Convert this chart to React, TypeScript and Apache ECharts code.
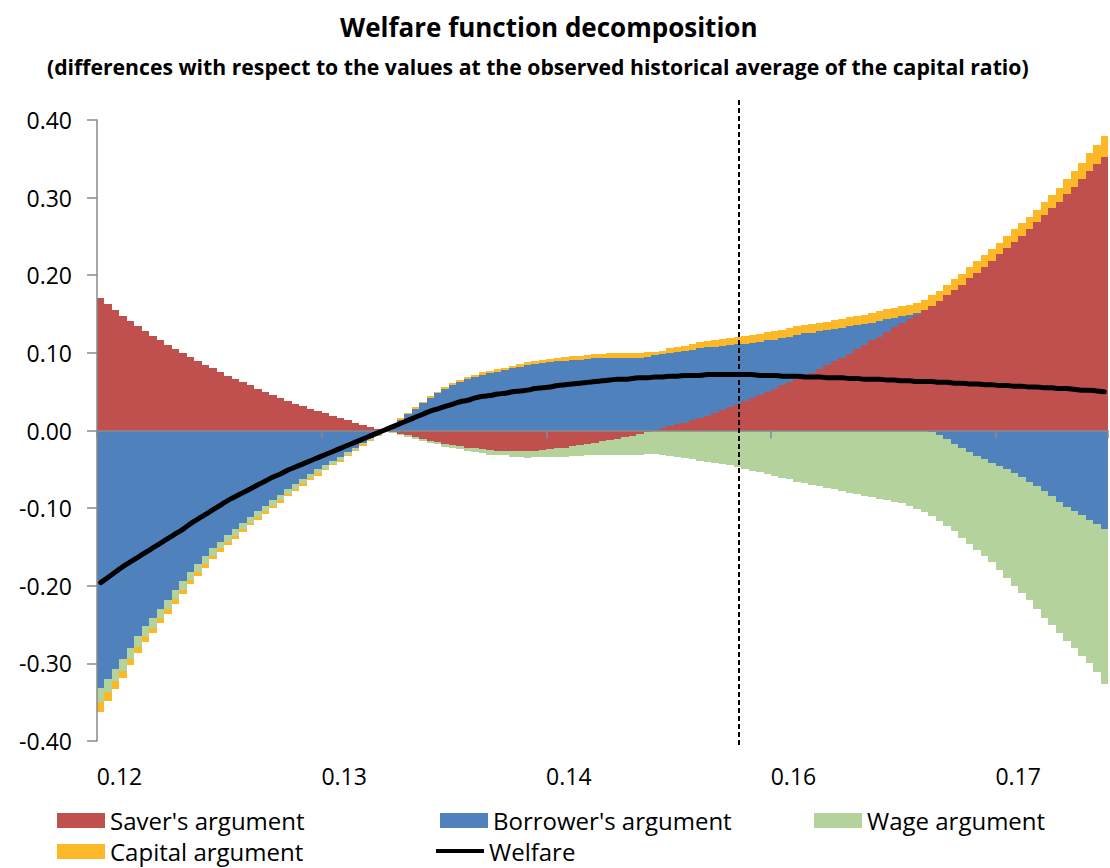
import React, { useEffect, useRef } from "react";
import * as echarts from "echarts";

// Capital-ratio grid of the chart (one bar per grid point)
const CATEGORY_START = 0.119;
const CATEGORY_STEP = 0.0004;

const saver = [
  0.171, 0.163, 0.155, 0.148, 0.141, 0.134, 0.128, 0.122, 0.116, 0.110,
  0.105, 0.100, 0.095, 0.090, 0.085, 0.080, 0.075, 0.070, 0.066, 0.062,
  0.058, 0.054, 0.050, 0.046, 0.042, 0.038, 0.034, 0.031, 0.028, 0.025,
  0.022, 0.019, 0.016, 0.013, 0.010, 0.007, 0.005, 0.002, 0.000, -0.002,
  -0.004, -0.006, -0.009, -0.011, -0.013, -0.015, -0.017, -0.019, -0.020, -0.022,
  -0.023, -0.024, -0.025, -0.026, -0.026, -0.027, -0.027, -0.027, -0.026, -0.025,
  -0.024, -0.023, -0.022, -0.020, -0.019, -0.017, -0.016, -0.014, -0.012, -0.011,
  -0.009, -0.007, -0.005, -0.002, 0.001, 0.003, 0.006, 0.008, 0.010, 0.013,
  0.016, 0.019, 0.022, 0.026, 0.030, 0.034, 0.038, 0.042, 0.046, 0.050,
  0.054, 0.058, 0.062, 0.066, 0.070, 0.074, 0.079, 0.084, 0.089, 0.094,
  0.099, 0.105, 0.110, 0.116, 0.121, 0.127, 0.133, 0.138, 0.144, 0.149,
  0.155, 0.161, 0.167, 0.174, 0.181, 0.188, 0.196, 0.203, 0.211, 0.219,
  0.227, 0.235, 0.243, 0.251, 0.259, 0.268, 0.277, 0.286, 0.295, 0.305,
  0.314, 0.324, 0.334, 0.343, 0.352,
];

const borrower = [
  -0.332, -0.320, -0.307, -0.295, -0.280, -0.265, -0.252, -0.241, -0.230, -0.218,
  -0.206, -0.194, -0.182, -0.172, -0.162, -0.152, -0.143, -0.135, -0.127, -0.119,
  -0.111, -0.104, -0.097, -0.090, -0.083, -0.076, -0.069, -0.062, -0.056, -0.050,
  -0.044, -0.039, -0.034, -0.028, -0.022, -0.016, -0.010, -0.005, 0.000, 0.006,
  0.014, 0.021, 0.028, 0.035, 0.042, 0.048, 0.053, 0.058, 0.062, 0.066,
  0.069, 0.072, 0.074, 0.076, 0.078, 0.080, 0.082, 0.084, 0.086, 0.087,
  0.088, 0.089, 0.090, 0.091, 0.091, 0.092, 0.093, 0.093, 0.094, 0.094,
  0.094, 0.094, 0.094, 0.095, 0.096, 0.095, 0.094, 0.093, 0.092, 0.091,
  0.090, 0.088, 0.086, 0.083, 0.080, 0.077, 0.074, 0.071, 0.068, 0.066,
  0.063, 0.061, 0.059, 0.057, 0.055, 0.052, 0.049, 0.045, 0.042, 0.038,
  0.035, 0.031, 0.027, 0.023, 0.020, 0.016, 0.012, 0.009, 0.005, 0.002,
  0.000, -0.002, -0.006, -0.011, -0.017, -0.023, -0.028, -0.033, -0.037, -0.042,
  -0.046, -0.050, -0.055, -0.060, -0.066, -0.072, -0.078, -0.085, -0.092, -0.098,
  -0.104, -0.109, -0.115, -0.120, -0.127,
];

const wage = [
  -0.018, -0.017, -0.016, -0.015, -0.014, -0.014, -0.013, -0.013, -0.012, -0.012,
  -0.011, -0.011, -0.011, -0.010, -0.010, -0.010, -0.009, -0.009, -0.009, -0.008,
  -0.008, -0.008, -0.007, -0.007, -0.007, -0.006, -0.006, -0.006, -0.005, -0.005,
  -0.005, -0.004, -0.004, -0.003, -0.003, -0.002, -0.002, -0.001, -0.001, -0.001,
  -0.002, -0.002, -0.002, -0.003, -0.003, -0.003, -0.004, -0.004, -0.004, -0.005,
  -0.005, -0.005, -0.006, -0.006, -0.006, -0.007, -0.007, -0.008, -0.008, -0.009,
  -0.010, -0.011, -0.012, -0.013, -0.014, -0.015, -0.016, -0.017, -0.019, -0.020,
  -0.022, -0.024, -0.026, -0.028, -0.030, -0.031, -0.033, -0.034, -0.035, -0.037,
  -0.039, -0.040, -0.042, -0.043, -0.045, -0.047, -0.049, -0.052, -0.054, -0.056,
  -0.058, -0.061, -0.063, -0.066, -0.068, -0.070, -0.072, -0.074, -0.076, -0.078,
  -0.080, -0.082, -0.084, -0.086, -0.088, -0.090, -0.092, -0.094, -0.097, -0.101,
  -0.105, -0.108, -0.110, -0.112, -0.113, -0.115, -0.118, -0.121, -0.125, -0.128,
  -0.134, -0.140, -0.145, -0.149, -0.153, -0.158, -0.163, -0.166, -0.169, -0.173,
  -0.176, -0.181, -0.185, -0.191, -0.200,
];

const capital = [
  -0.012, -0.011, -0.010, -0.009, -0.008, -0.008, -0.007, -0.007, -0.006, -0.006,
  -0.006, -0.005, -0.005, -0.005, -0.005, -0.004, -0.004, -0.004, -0.004, -0.004,
  -0.003, -0.003, -0.003, -0.003, -0.003, -0.003, -0.003, -0.003, -0.003, -0.003,
  -0.002, -0.002, -0.002, -0.002, -0.002, -0.002, -0.001, -0.001, 0.000, 0.001,
  0.002, 0.002, 0.002, 0.002, 0.002, 0.002, 0.003, 0.003, 0.003, 0.003,
  0.003, 0.003, 0.003, 0.003, 0.003, 0.003, 0.004, 0.004, 0.004, 0.004,
  0.004, 0.004, 0.005, 0.005, 0.005, 0.005, 0.006, 0.006, 0.006, 0.006,
  0.006, 0.006, 0.006, 0.006, 0.004, 0.005, 0.006, 0.007, 0.007, 0.007,
  0.008, 0.008, 0.008, 0.009, 0.009, 0.009, 0.010, 0.010, 0.010, 0.011,
  0.011, 0.011, 0.011, 0.011, 0.011, 0.011, 0.011, 0.011, 0.011, 0.011,
  0.012, 0.012, 0.012, 0.013, 0.013, 0.013, 0.013, 0.013, 0.013, 0.013,
  0.013, 0.013, 0.013, 0.014, 0.014, 0.014, 0.014, 0.015, 0.015, 0.015,
  0.015, 0.015, 0.016, 0.016, 0.016, 0.016, 0.017, 0.017, 0.018, 0.019,
  0.020, 0.021, 0.023, 0.025, 0.028,
];

const welfare = [
  -0.196, -0.189, -0.182, -0.175, -0.169, -0.163, -0.157, -0.151, -0.145, -0.139,
  -0.133, -0.127, -0.120, -0.114, -0.108, -0.102, -0.096, -0.090, -0.085, -0.080,
  -0.075, -0.070, -0.065, -0.060, -0.056, -0.051, -0.047, -0.043, -0.039, -0.035,
  -0.031, -0.027, -0.023, -0.019, -0.015, -0.011, -0.007, -0.003, 0.001, 0.005,
  0.009, 0.013, 0.017, 0.021, 0.025, 0.028, 0.031, 0.034, 0.037, 0.039,
  0.042, 0.044, 0.045, 0.047, 0.048, 0.050, 0.051, 0.052, 0.054, 0.055,
  0.056, 0.058, 0.059, 0.060, 0.061, 0.062, 0.063, 0.064, 0.065, 0.066,
  0.066, 0.067, 0.068, 0.068, 0.069, 0.069, 0.070, 0.070, 0.071, 0.071,
  0.071, 0.072, 0.072, 0.072, 0.072, 0.072, 0.072, 0.072, 0.071, 0.071,
  0.071, 0.070, 0.070, 0.070, 0.069, 0.069, 0.069, 0.068, 0.068, 0.068,
  0.067, 0.067, 0.066, 0.066, 0.066, 0.065, 0.065, 0.064, 0.064, 0.063,
  0.063, 0.063, 0.062, 0.062, 0.061, 0.061, 0.060, 0.060, 0.059, 0.059,
  0.058, 0.058, 0.057, 0.057, 0.056, 0.056, 0.055, 0.055, 0.054, 0.054,
  0.053, 0.052, 0.052, 0.051, 0.050,
];

const categories = saver.map((_, i) => (CATEGORY_START + i * CATEGORY_STEP).toFixed(4));

// x tick labels: capital-ratio values where they sit, and their printed text
const xLabelValues = [0.12, 0.132, 0.144, 0.156, 0.168];
const xTickLabels = ["0.12", "0.13", "0.14", "0.16", "0.17"];
const X_TICK_EVERY = 30; // bars between tick marks on the zero line

// observed historical average of the capital ratio (dashed marker) and its vertical extent
const historicalAverage = [0.1531];
const markerSpan = [0.426, -0.408];

const Y_MIN = -0.4;
const Y_MAX = 0.4;
const Y_STEP = 0.1;

const RED = "#C0504D";
const BLUE = "#4F81BD";
const GREEN = "#B4D39C";
const YELLOW = "#FDB827";
const AXIS_GREY = "#8A8A8A";
const FONT = "'Open Sans', sans-serif";

export default function App() {
  const ref = useRef<HTMLDivElement>(null);

  useEffect(() => {
    if (!ref.current) return;
    const chart = echarts.init(ref.current, null, { renderer: "svg" });

    const barBase = {
      type: "bar",
      stack: "total",
      xAxisIndex: 0,
      yAxisIndex: 0,
      barCategoryGap: "0%",
      barGap: "0%",
      z: 2,
    };

    const legendBase = {
      orient: "horizontal",
      itemGap: 0,
      padding: 0,
      selectedMode: false,
      icon: "rect",
      itemWidth: 48,
      itemHeight: 15,
      textStyle: { fontSize: 24, color: "#000", fontFamily: FONT },
    };

    const xMin = CATEGORY_START - CATEGORY_STEP / 2;
    const xMax = CATEGORY_START + (categories.length - 1) * CATEGORY_STEP + CATEGORY_STEP / 2;

    const option: any = {
      animation: false,
      backgroundColor: "#ffffff",
      textStyle: { fontFamily: FONT },
      title: [
        {
          text: "Welfare function decomposition",
          left: 340,
          top: 14,
          padding: 0,
          textStyle: { fontSize: 26, fontWeight: "bold", color: "#000", fontFamily: FONT },
        },
        {
          text: "(differences with respect to the values at the observed historical average of the capital ratio)",
          left: 47,
          top: 56,
          padding: 0,
          textStyle: { fontSize: 21.2, fontWeight: "bold", color: "#000", fontFamily: FONT },
        },
      ],
      grid: {
        left: 97,
        right: 2,
        top: 120,
        bottom: 127,
        containLabel: false,
        outerBoundsMode: "none",
      },
      legend: [
        { ...legendBase, data: ["Saver's argument"], left: 57, top: 808 },
        { ...legendBase, data: ["Borrower's argument"], left: 440, top: 808 },
        { ...legendBase, data: ["Wage argument"], left: 814, top: 808 },
        { ...legendBase, data: ["Capital argument"], left: 57, top: 839 },
        { ...legendBase, data: ["Welfare"], left: 436, top: 839, itemHeight: 4 },
      ],
      xAxis: [
        {
          type: "category",
          data: categories,
          position: "bottom",
          boundaryGap: true,
          z: 3,
          axisLine: { show: true, onZero: true, lineStyle: { color: AXIS_GREY, width: 1.5 } },
          axisTick: {
            show: true,
            interval: (i: number) => i % X_TICK_EVERY === 0,
            length: 8,
            lineStyle: { color: AXIS_GREY, width: 1.5 },
          },
          axisLabel: { show: false },
          splitLine: { show: false },
        },
        {
          type: "value",
          min: xMin,
          max: xMax,
          position: "bottom",
          axisLine: { show: false, onZero: false },
          axisTick: { show: false },
          splitLine: { show: false },
          axisLabel: {
            show: true,
            customValues: xLabelValues,
            formatter: (v: number) => {
              const k = xLabelValues.findIndex((x) => Math.abs(x - v) < 1e-6);
              return k >= 0 ? xTickLabels[k] : "";
            },
            fontSize: 23,
            color: "#000",
            fontFamily: FONT,
            margin: 23,
            showMinLabel: true,
            showMaxLabel: true,
          },
        },
      ],
      yAxis: {
        type: "value",
        min: Y_MIN,
        max: Y_MAX,
        interval: Y_STEP,
        z: 3,
        axisLine: { show: true, onZero: false, lineStyle: { color: AXIS_GREY, width: 1.5 } },
        axisTick: { show: true, length: 10, lineStyle: { color: AXIS_GREY, width: 1.5 } },
        axisLabel: {
          formatter: (v: number) => v.toFixed(2),
          fontSize: 23,
          color: "#000",
          fontFamily: FONT,
          margin: 25,
        },
        splitLine: { show: false },
      },
      series: [
        { ...barBase, name: "Saver's argument", data: saver, itemStyle: { color: RED } },
        { ...barBase, name: "Borrower's argument", data: borrower, itemStyle: { color: BLUE } },
        { ...barBase, name: "Wage argument", data: wage, itemStyle: { color: GREEN } },
        { ...barBase, name: "Capital argument", data: capital, itemStyle: { color: YELLOW } },
        {
          type: "line",
          name: "Welfare",
          data: welfare,
          xAxisIndex: 0,
          yAxisIndex: 0,
          symbol: "none",
          smooth: true,
          z: 5,
          lineStyle: { color: "#000", width: 5, cap: "round" },
          itemStyle: { color: "#000" },
        },
        {
          type: "custom",
          name: "Historical average",
          xAxisIndex: 1,
          yAxisIndex: 0,
          silent: true,
          clip: false,
          z: 6,
          data: historicalAverage.map((x) => [x, markerSpan[0], markerSpan[1]]),
          renderItem: (_params: any, api: any) => {
            const top = api.coord([api.value(0), api.value(1)]);
            const bottom = api.coord([api.value(0), api.value(2)]);
            return {
              type: "line",
              shape: { x1: top[0], y1: top[1], x2: bottom[0], y2: bottom[1] },
              style: { stroke: "#000", lineWidth: 1.5, lineDash: [5, 3] },
            };
          },
        },
      ],
    };

    chart.setOption(option);
    return () => chart.dispose();
  }, []);

  return (
    <>
      <style>{`#welfare-chart svg path:not([fill="none"]) { shape-rendering: crispEdges; }`}</style>
      <div
        id="welfare-chart"
        ref={ref}
        style={{ position: "absolute", left: 0, top: 0, width: 1110, height: 868, background: "#fff" }}
      />
    </>
  );
}
